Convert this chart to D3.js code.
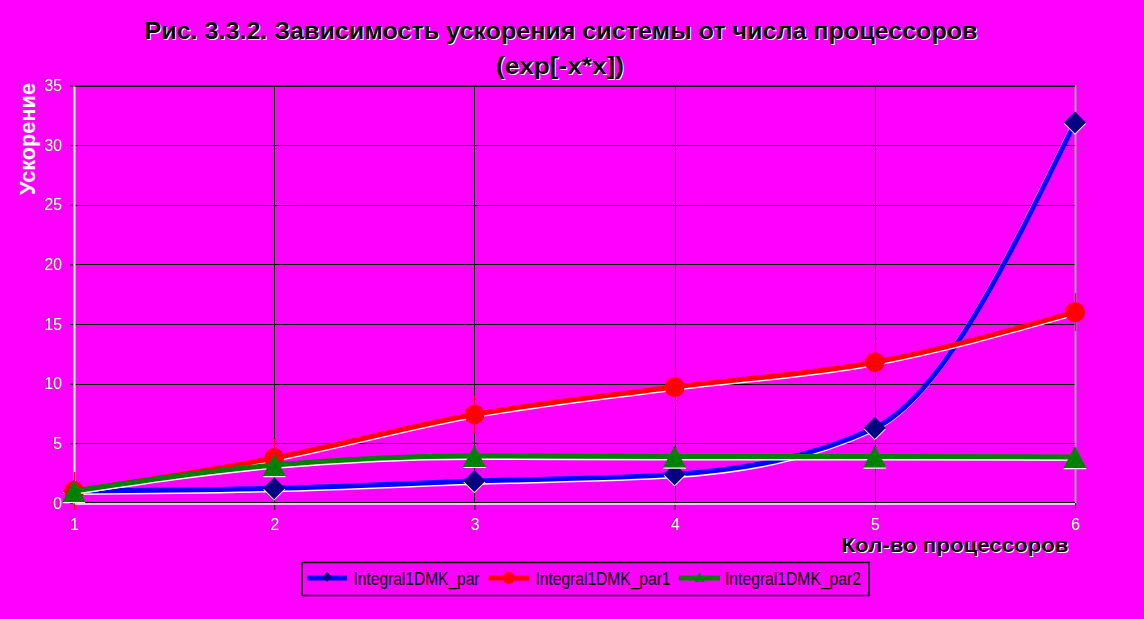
<!DOCTYPE html>
<html>
<head>
<meta charset="utf-8">
<script src="https://cdn.jsdelivr.net/npm/d3@7"></script>
<style>
  html, body { margin: 0; padding: 0; background: #FF00FF; }
  svg { display: block; }
</style>
</head>
<body>
<svg id="chart" width="1144" height="619"></svg>
<script>
// ---- data ----
const categories = [1, 2, 3, 4, 5, 6];
const seriesNames = ["Integral1DMK_par", "Integral1DMK_par1", "Integral1DMK_par2"];
const parValues  = [1, 1.23, 1.84, 2.4, 6.29, 31.9];
const par1Values = [1, 3.77, 7.42, 9.72, 11.8, 16.0];
const par2Values = [1, 3.18, 3.95, 3.9, 3.9, 3.85];
const yTickValues = [0, 5, 10, 15, 20, 25, 30, 35];
const titleLine1 = "Рис. 3.3.2. Зависимость ускорения системы от числа процессоров";
const titleLine2 = "(exp[-x*x])";
const yAxisTitle = "Ускорение";
const xAxisTitle = "Кол-во процессоров";

// ---- layout ----
const W = 1144, H = 619;
const plot = { left: 74, right: 1075, top: 85.5, bottom: 503 };
const svg = d3.select("#chart");
svg.append("rect").attr("width", W).attr("height", H).attr("fill", "#FF00FF");

const x = d3.scaleLinear().domain([1, 6]).range([plot.left, plot.right]);
const y = d3.scaleLinear().domain([0, 35]).range([plot.bottom, plot.top]);

// gridlines
const grid = svg.append("g");
grid.selectAll("line.h").data(yTickValues.filter(v => v > 0)).join("line")
  .attr("x1", plot.left).attr("x2", plot.right)
  .attr("y1", d => Math.round(y(d)) + 0.5).attr("y2", d => Math.round(y(d)) + 0.5)
  .attr("stroke", "#000").attr("stroke-width", 1);
grid.selectAll("line.v").data(categories.slice(1, -1)).join("line")
  .attr("x1", d => Math.round(x(d)) + 0.5).attr("x2", d => Math.round(x(d)) + 0.5)
  .attr("y1", plot.top).attr("y2", plot.bottom)
  .attr("stroke", "#000").attr("stroke-width", 1);

// plot border right
svg.append("line").attr("x1", plot.right + 0.5).attr("x2", plot.right + 0.5)
  .attr("y1", plot.top).attr("y2", plot.bottom)
  .attr("stroke", "#A0A0A0").attr("stroke-width", 2);

// axes
const yAxis = svg.append("g").attr("transform", `translate(${plot.left},0)`)
  .call(d3.axisLeft(y).tickValues(yTickValues).tickSize(4).tickPadding(8).tickFormat(d3.format("d")));
const xAxis = svg.append("g").attr("transform", `translate(0,${plot.bottom})`)
  .call(d3.axisBottom(x).tickValues(categories).tickSize(7).tickPadding(9).tickFormat(d3.format("d")));
[yAxis, xAxis].forEach(g => {
  g.select(".domain").remove();
  g.selectAll(".tick line").attr("stroke", "#000");
  g.selectAll(".tick text")
    .attr("fill", "#FFFFFF")
    .style("font-family", "Arial, 'Liberation Sans', sans-serif")
    .style("font-size", "16px")
    .each(function () {
      const clone = this.cloneNode(true);
      this.parentNode.insertBefore(clone, this);
      d3.select(clone).attr("fill", "#7a007a").attr("transform", "translate(-1,0)");
    });
});
// axis lines
svg.append("line").attr("x1", plot.left - 0.5).attr("x2", plot.right)
  .attr("y1", plot.bottom - 0.5).attr("y2", plot.bottom - 0.5).attr("stroke", "#000").attr("stroke-width", 1);
svg.append("line").attr("x1", plot.left).attr("x2", plot.right)
  .attr("y1", plot.bottom + 1).attr("y2", plot.bottom + 1).attr("stroke", "#FFF").attr("stroke-width", 1.5);
svg.append("line").attr("x1", plot.left + 0.5).attr("x2", plot.left + 0.5)
  .attr("y1", plot.top).attr("y2", plot.bottom + 1).attr("stroke", "#FFF").attr("stroke-width", 2);
svg.append("line").attr("x1", plot.left).attr("x2", plot.right)
  .attr("y1", plot.top + 0.5).attr("y2", plot.top + 0.5).attr("stroke", "#000").attr("stroke-width", 1);

// ---- series ----
const series = [
  { name: seriesNames[0], values: parValues, line: "#0000FF", marker: "#000080", shape: "diamond" },
  { name: seriesNames[1], values: par1Values, line: "#FF0000", marker: "#FF0000", shape: "circle" },
  { name: seriesNames[2], values: par2Values, line: "#008000", marker: "#008000", shape: "triangle" }
];
const lineGen = d3.line().x(d => x(d[0])).y(d => y(d[1])).curve(d3.curveMonotoneX);

function markerPath(shape, s) {
  if (shape === "diamond") return `M0,${-s} L${s},0 L0,${s} L${-s},0 Z`;
  if (shape === "triangle") return `M0,${-s} L${s * 1.05},${s} L${-s * 1.05},${s} Z`;
  return null;
}

series.forEach(sr => {
  const pts = categories.map((c, i) => [c, sr.values[i]]);
  const g = svg.append("g");
  g.append("path").attr("d", lineGen(pts)).attr("fill", "none")
    .attr("stroke", "#FFFFFF").attr("stroke-width", 5).attr("transform", "translate(-1,1.5)");
  g.append("path").attr("d", lineGen(pts)).attr("fill", "none")
    .attr("stroke", sr.line).attr("stroke-width", 5);
  pts.forEach(p => {
    const cx = x(p[0]), cy = y(p[1]);
    if (sr.shape === "circle") {
      g.append("line").attr("x1", Math.round(cx) + 0.5).attr("x2", Math.round(cx) + 0.5)
        .attr("y1", cy - 19).attr("y2", cy + 19).attr("stroke", sr.marker).attr("stroke-width", 1.2);
      g.append("circle").attr("cx", cx).attr("cy", cy).attr("r", 10).attr("fill", sr.marker);
    } else {
      const s = 11;
      g.append("path").attr("d", markerPath(sr.shape, s))
        .attr("transform", `translate(${cx},${cy + 1.2})`).attr("fill", "#FFFFFF");
      g.append("path").attr("d", markerPath(sr.shape, s))
        .attr("transform", `translate(${cx},${cy})`).attr("fill", sr.marker);
    }
  });
});

// ---- titles ----
function shadowText(txt, px, py, opts) {
  const g = svg.append("g");
  const mk = (dx, dy, fill) => g.append("text")
    .attr("x", px + dx).attr("y", py + dy)
    .attr("text-anchor", opts.anchor || "middle")
    .attr("fill", fill)
    .attr("font-family", "Arial, 'Liberation Sans', sans-serif")
    .attr("font-weight", opts.weight || "bold")
    .attr("font-size", opts.size)
    .attr("textLength", opts.len || null)
    .attr("lengthAdjust", opts.len ? "spacingAndGlyphs" : null)
    .attr("transform", opts.rotate ? `rotate(${opts.rotate},${px + dx},${py + dy})` : null)
    .text(txt);
  if (opts.shadow) mk(1, 1, opts.shadow);
  mk(0, 0, opts.fill);
}
shadowText(titleLine1, 561, 39, { size: 24, len: 833, fill: "#000", shadow: "#FFF" });
shadowText(titleLine2, 560, 74, { size: 24, len: 128, fill: "#000", shadow: "#FFF" });
shadowText(xAxisTitle, 955, 552, { size: 20, len: 227, fill: "#000", shadow: "#FFF" });
shadowText(yAxisTitle, 35, 139, { size: 22, len: 112, fill: "#FFF", rotate: -90 });

// ---- legend ----
const lg = svg.append("g");
lg.append("rect").attr("x", 302).attr("y", 562.5).attr("width", 567).attr("height", 33)
  .attr("fill", "#FF00FF").attr("stroke", "#000").attr("stroke-width", 1.5);
const legendX = [[307, 347, 353.5, 126], [488.5, 529, 535.5, 135], [679, 720, 725, 136]];
series.forEach((sr, i) => {
  const [l1, l2, tx, tl] = legendX[i];
  const ly = 578;
  lg.append("line").attr("x1", l1).attr("x2", l2).attr("y1", ly).attr("y2", ly)
    .attr("stroke", sr.line).attr("stroke-width", 5);
  const mx = (l1 + l2) / 2;
  if (sr.shape === "circle") {
    lg.append("circle").attr("cx", mx).attr("cy", ly).attr("r", 6).attr("fill", sr.marker);
  } else {
    lg.append("path").attr("d", markerPath(sr.shape, 5))
      .attr("transform", `translate(${mx},${ly - 1})`).attr("fill", sr.marker);
  }
  lg.append("text").attr("x", tx).attr("y", 585)
    .attr("font-family", "Arial, 'Liberation Sans', sans-serif")
    .attr("font-size", 18).attr("fill", "#000")
    .attr("textLength", tl).attr("lengthAdjust", "spacingAndGlyphs")
    .text(sr.name);
});
</script>
</body>
</html>
